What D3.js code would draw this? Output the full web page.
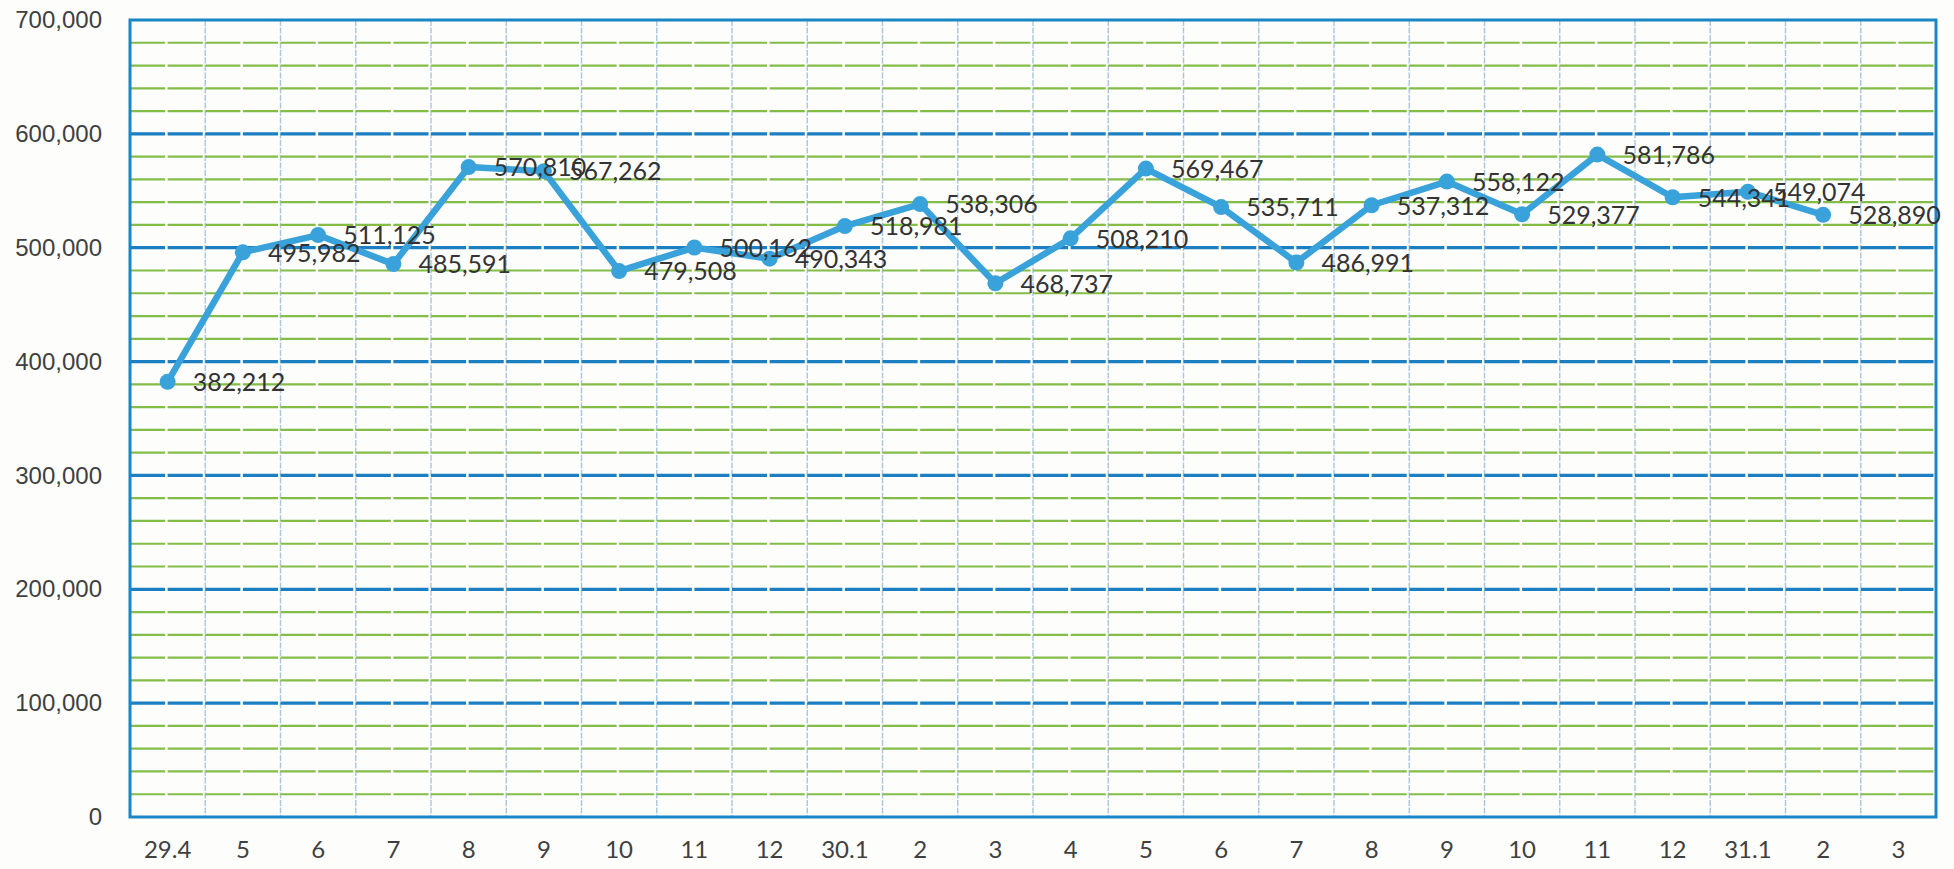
<!DOCTYPE html>
<html>
<head>
<meta charset="utf-8">
<script src="https://cdn.jsdelivr.net/npm/d3@7"></script>
<style>
  html, body { margin: 0; padding: 0; background: #fdfdfb; }
  svg { display: block; }
</style>
</head>
<body>
<svg id="chart" width="1954" height="869"></svg>
<script>
// Daily counts, one point per date
const categories = ["29.4","5","6","7","8","9","10","11","12","30.1","2","3","4","5","6","7","8","9","10","11","12","31.1","2","3"];
const values = [382212, 495982, 511125, 485591, 570810, 567262, 479508, 500162, 490343, 518981, 538306, 468737, 508210, 569467, 535711, 486991, 537312, 558122, 529377, 581786, 544341, 549074, 528890, null];
const yTicks = [0, 100000, 200000, 300000, 400000, 500000, 600000, 700000];
const yMinorStep = 20000;

const svg = d3.select("#chart");
const m = { left: 130, right: 1936, top: 20, bottom: 817 };

const x = d3.scaleBand().domain(d3.range(categories.length)).range([m.left, m.right]).paddingInner(0).paddingOuter(0);
const y = d3.scaleLinear().domain([0, 700000]).range([m.bottom, m.top]);

const grid = svg.append("g");

// vertical category separators
grid.selectAll("line.v")
  .data(d3.range(1, categories.length))
  .join("line")
  .attr("x1", i => x(i)).attr("x2", i => x(i))
  .attr("y1", m.top).attr("y2", m.bottom)
  .attr("stroke", "#a9c6dd").attr("stroke-width", 1.4)
  .attr("stroke-dasharray", "6 1.5");

// minor horizontal lines every 20,000
const minor = d3.range(yMinorStep, 700000, yMinorStep).filter(v => v % 100000 !== 0);
grid.selectAll("line.minor")
  .data(minor)
  .join("line")
  .attr("x1", m.left).attr("x2", m.right)
  .attr("y1", d => y(d)).attr("y2", d => y(d))
  .attr("stroke", "#84bc48").attr("stroke-width", 2.2)
  .attr("stroke-dasharray", `${x.bandwidth() / 2 - 2.5} 2.5`);

// major horizontal lines every 100,000
grid.selectAll("line.major")
  .data(yTicks.filter(v => v > 0 && v < 700000))
  .join("line")
  .attr("x1", m.left).attr("x2", m.right)
  .attr("y1", d => y(d)).attr("y2", d => y(d))
  .attr("stroke", "#1c7fc1").attr("stroke-width", 3.2)
  .attr("stroke-dasharray", `${x.bandwidth() / 2 - 2.5} 2.5`);

// plot frame
svg.append("rect")
  .attr("x", m.left).attr("y", m.top)
  .attr("width", m.right - m.left).attr("height", m.bottom - m.top)
  .attr("fill", "none").attr("stroke", "#1b86c6").attr("stroke-width", 3);

// y axis labels
const yAxis = d3.axisLeft(y).tickValues(yTicks).tickSize(0).tickPadding(28)
  .tickFormat(d3.format(","));
svg.append("g").attr("transform", `translate(${m.left},0)`).call(yAxis)
  .call(g => g.select(".domain").remove())
  .selectAll("text")
  .attr("font-family", "'Liberation Sans', Arial, sans-serif")
  .attr("font-size", 24).attr("fill", "#404040");

// x axis labels
const xAxis = d3.axisBottom(x).tickFormat(i => categories[i]).tickSize(0).tickPadding(24);
svg.append("g").attr("transform", `translate(0,${m.bottom})`).call(xAxis)
  .call(g => g.select(".domain").remove())
  .selectAll("text")
  .attr("font-family", "Lato, 'Open Sans', sans-serif")
  .attr("font-size", 24).attr("fill", "#404040");

// series
const pts = values.map((v, i) => ({ i, v })).filter(d => d.v != null);
const cx = d => x(d.i) + x.bandwidth() / 2;

svg.append("path")
  .datum(pts)
  .attr("fill", "none").attr("stroke", "#3aa2da").attr("stroke-width", 6.5)
  .attr("stroke-linejoin", "round")
  .attr("d", d3.line().x(cx).y(d => y(d.v)));

svg.selectAll("circle.pt")
  .data(pts)
  .join("circle")
  .attr("cx", cx).attr("cy", d => y(d.v)).attr("r", 8)
  .attr("fill", "#3aa2da");

// value labels to the right of each point
svg.selectAll("text.val")
  .data(pts)
  .join("text")
  .attr("x", d => cx(d) + 25)
  .attr("y", d => y(d.v) + 3)
  .attr("dominant-baseline", "middle")
  .attr("font-family", "Lato, 'Open Sans', sans-serif")
  .attr("font-size", 25).attr("fill", "#333333")
  .text(d => d3.format(",")(d.v));
</script>
</body>
</html>
